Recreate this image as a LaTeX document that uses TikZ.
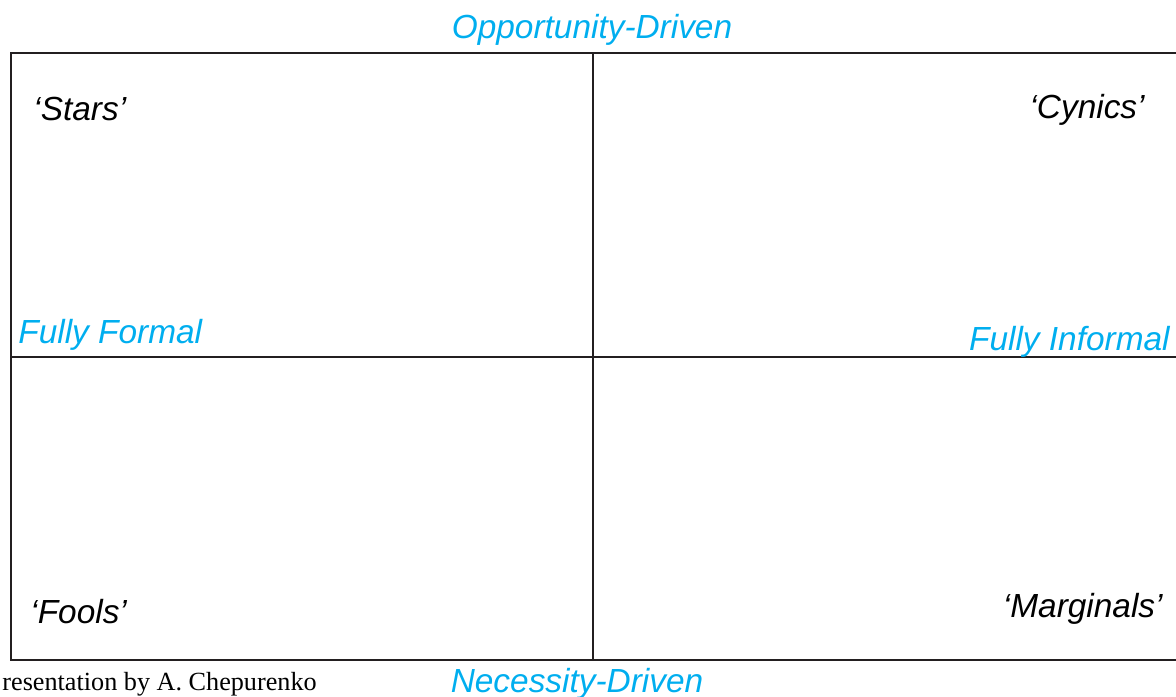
\documentclass[tikz,border=0pt]{standalone}
\usepackage{fontspec}
\setmainfont{Liberation Sans}
\newfontfamily\creditfont{Liberation Serif}
\usepackage{tikz}
\usetikzlibrary{calc,positioning}
\definecolor{cyanblue}{RGB}{0,174,239}
\definecolor{gridgrey}{RGB}{35,31,32}
\newcommand{\quadfont}{\fontsize{16.7}{20}\selectfont\itshape}

\begin{document}
\begin{tikzpicture}[x=0.5pt,y=-0.5pt]

\tikzset{axislabel/.style={font=\quadfont,text=cyanblue,inner sep=0pt},
quadlabel/.style={font=\quadfont,text=black,inner sep=0pt},
gridline/.style={draw=gridgrey,line width=1.4pt}}

\useasboundingbox (0,0) rectangle (1176,696);

% Corners of the grid
\coordinate (tl) at (11,53); \coordinate (tr) at (1176,53);
\coordinate (bl) at (11,660); \coordinate (br) at (1176,660);
\coordinate (topmid) at (593,53); \coordinate (botmid) at (593,660);
\coordinate (leftmid) at (11,357); \coordinate (rightmid) at (1176,357);

% Grid
\draw[gridline] (tr) -- (tl) -- (bl) -- (br);
\draw[gridline] (topmid) -- (botmid);
\draw[gridline] (leftmid) -- (rightmid);

% Axis labels
\node[axislabel,anchor=base] (opp) at (592,38) {Opportunity-Driven};
\node[axislabel,anchor=base] (nec) at (577,692) {Necessity-Driven};
\node[axislabel,anchor=base west] (formal) at (18,343) {Fully Formal};
\node[axislabel,anchor=base east] (informal) at (1170,350) {Fully Informal};

% Quadrant labels
\node[quadlabel,anchor=base west] (stars) at (33,120) {‘Stars’};
\node[quadlabel,anchor=base east] (cynics) at (1145,118) {‘Cynics’};
\node[quadlabel,anchor=base west] (fools) at (30,623) {‘Fools’};
\node[quadlabel,anchor=base east] (marginals) at (1163,617) {‘Marginals’};

% Credit
\node[font=\creditfont\fontsize{13.1}{15}\selectfont,inner sep=0pt,anchor=base west] (credit) at (2,690) {resentation by A. Chepurenko};

\end{tikzpicture}
\end{document}
